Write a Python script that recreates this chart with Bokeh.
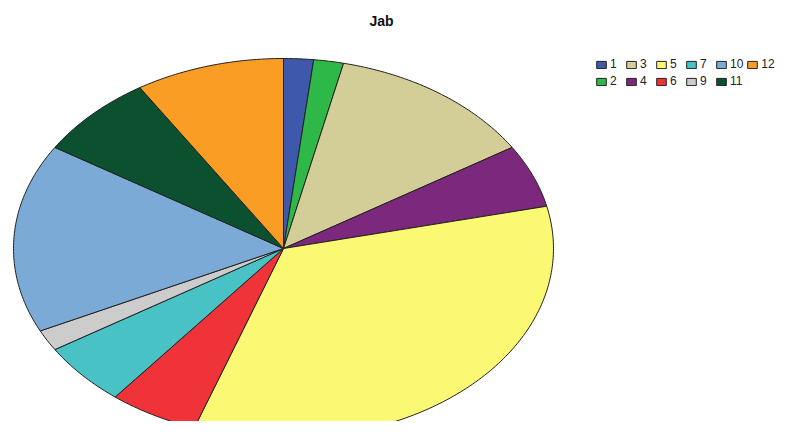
import numpy as np
from bokeh.plotting import figure
from bokeh.models import ColumnDataSource, Range1d, Label, Legend, LegendItem
from bokeh.embed import file_html
from bokeh.resources import INLINE

# Data
categories = ["1", "2", "3", "4", "5", "6", "7", "9", "10", "11", "12"]
counts = [1, 1, 7, 3, 19, 3, 3, 1, 9, 4, 5]
colors = ["#3E58AC", "#2EB848", "#D3CE97", "#7C287D", "#FBF873", "#EF3338",
          "#48C2C5", "#CCCCCC", "#7BAAD7", "#0B5130", "#F99D24"]

W, H = 778, 421
p = figure(width=W, height=H, output_backend="svg", toolbar_location=None,
           x_range=Range1d(0, W), y_range=Range1d(0, H),
           min_border=0, outline_line_color=None)
p.axis.visible = False
p.grid.visible = False
p.background_fill_color = "white"

cx, cy, a, b = 283, 173, 270, 190
vals = np.array(counts, dtype=float)
ends = np.cumsum(vals) / vals.sum() * 2 * np.pi
starts = np.concatenate([[0.0], ends[:-1]])

xs, ys = [], []
for s, e in zip(starts, ends):
    n = max(4, int((e - s) / (2 * np.pi) * 400))
    t = np.linspace(s, e, n)
    xs.append([cx] + list(cx + a * np.sin(t)) + [cx])
    ys.append([cy] + list(cy + b * np.cos(t)) + [cy])

renderers = []
for i in range(len(categories)):
    src = ColumnDataSource(dict(xs=[xs[i]], ys=[ys[i]]))
    r = p.patches("xs", "ys", source=src, fill_color=colors[i],
                  line_color="#222222", line_width=1)
    renderers.append(r)

legend = Legend(items=[LegendItem(label=c, renderers=[r]) for c, r in zip(categories, renderers)],
                orientation="vertical", nrows=2,
                glyph_width=12, glyph_height=9, label_height=9, label_width=12,
                label_text_font="Liberation Sans", label_text_font_size="12px",
                label_standoff=3, spacing=3, padding=0, margin=0,
                border_line_color=None, background_fill_alpha=0,
                location=(595, 333), label_text_color="#222222")
p.add_layout(legend)

title = Label(x=381, y=401, text="Jab", text_align="center", text_baseline="middle",
              text_font="Liberation Sans", text_font_size="14px", text_font_style="bold",
              text_color="#111111")
p.add_layout(title)

open("out.html", "w").write(file_html(p, INLINE))
